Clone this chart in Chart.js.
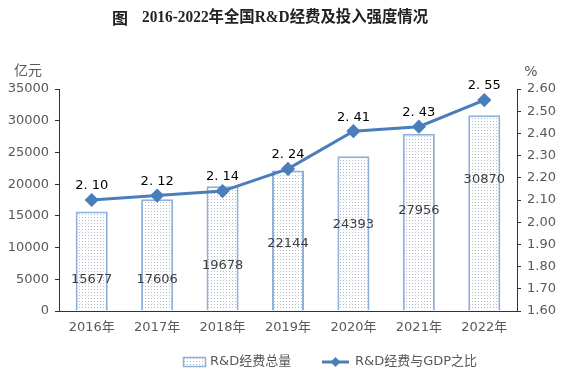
<!DOCTYPE html>
<html><head><meta charset="utf-8">
<script src="https://cdn.jsdelivr.net/npm/chart.js@4/dist/chart.umd.min.js"></script>
<style>html,body{margin:0;padding:0;background:#fff}#wrap{width:566px;height:378px}</style>
</head><body><div id="wrap"><canvas id="c" width="566" height="378"></canvas></div>
<script>
const categories = ['2016年','2017年','2018年','2019年','2020年','2021年','2022年'];
const rdTotal = [15677, 17606, 19678, 22144, 24393, 27956, 30870];
const rdRatio = [2.10, 2.12, 2.14, 2.24, 2.41, 2.43, 2.55];
// where the bar value labels sit (in 亿元 units on the left axis)
const barLabelAt = [4900, 4900, 7100, 10700, 13560, 15770, 20650];
const titleLead = '图';
const titleText = '2016-2022年全国R&D经费及投入强度情况';
const seriesNames = ['R&D经费总量', 'R&D经费与GDP之比'];

const LINE = '#4a7ebb';
const BORDER = '#8fb0d9';
const TXT = '#404040';
const FONT = "'DejaVu Sans', 'Noto Sans CJK SC', sans-serif";

function makePattern(){
  const p = document.createElement('canvas'); p.width = 3; p.height = 3;
  const g = p.getContext('2d');
  g.fillStyle = '#ffffff'; g.fillRect(0,0,3,3);
  g.fillStyle = '#b4bccb'; g.fillRect(1,1,1,1);
  return g.createPattern(p,'repeat');
}
const pattern = makePattern();

const extras = {
  id: 'extras',
  afterDatasetsDraw(chart){
    const ctx = chart.ctx;
    const xs = chart.scales.x, y = chart.scales.y, y1 = chart.scales.y1;
    ctx.save();
    ctx.font = '13px ' + FONT;
    ctx.fillStyle = TXT;
    ctx.textAlign = 'center'; ctx.textBaseline = 'middle';
    rdTotal.forEach((v,i)=>{
      ctx.fillText(String(v), xs.getPixelForValue(i), y.getPixelForValue(barLabelAt[i]));
    });
    ctx.fillStyle = '#000';
    rdRatio.forEach((v,i)=>{
      ctx.fillText(v.toFixed(2).replace('.', '. '), xs.getPixelForValue(i), y1.getPixelForValue(v) - 14);
    });
    ctx.fillStyle = '#595959';
    ctx.font = "14px 'Noto Sans CJK SC', sans-serif";
    ctx.fillText('亿元', 28, 70);
    ctx.font = '14px ' + FONT;
    ctx.fillText('%', 531, 72);
    // title
    ctx.fillStyle = '#222';
    ctx.textAlign = 'left';
    ctx.font = "bold 16px 'Noto Sans CJK SC', serif";
    ctx.fillText(titleLead, 112, 18);
    ctx.font = "bold 16px 'Liberation Serif','Noto Sans CJK SC', serif";
    const w = ctx.measureText(titleText).width;
    ctx.save();
    ctx.translate(142, 18);
    ctx.scale(286 / w, 1);
    ctx.fillText(titleText, 0, 0);
    ctx.restore();
    // legend
    const ly = 362;
    ctx.fillStyle = pattern;
    ctx.fillRect(183, ly - 5, 23, 10);
    ctx.strokeStyle = BORDER; ctx.lineWidth = 1.5;
    ctx.strokeRect(183.5, ly - 4.5, 22, 9);
    ctx.strokeStyle = LINE; ctx.lineWidth = 3;
    ctx.beginPath(); ctx.moveTo(322, ly); ctx.lineTo(349, ly); ctx.stroke();
    ctx.fillStyle = LINE;
    ctx.beginPath(); ctx.moveTo(335.5, ly - 5); ctx.lineTo(340.5, ly); ctx.lineTo(335.5, ly + 5); ctx.lineTo(330.5, ly); ctx.closePath(); ctx.fill();
    ctx.fillStyle = '#595959';
    ctx.font = '13px ' + FONT;
    ctx.fillText(seriesNames[0], 210, ly);
    ctx.fillText(seriesNames[1], 355, ly);
    ctx.restore();
  }
};

new Chart(document.getElementById('c'), {
  data: {
    labels: categories,
    datasets: [
      { type: 'line', label: seriesNames[1], data: rdRatio, yAxisID: 'y1', borderColor: LINE, backgroundColor: LINE,
        borderWidth: 3, pointStyle: 'rectRot', pointRadius: 5, pointHoverRadius: 5, order: 0 },
      { type: 'bar', label: seriesNames[0], data: rdTotal, yAxisID: 'y', backgroundColor: pattern, borderColor: BORDER,
        borderWidth: 2, barPercentage: 0.49, categoryPercentage: 1, order: 1 }
    ]
  },
  options: {
    responsive: false, animation: false, devicePixelRatio: 1,
    layout: { padding: { left: 0, right: 0, top: 89, bottom: 38 } },
    plugins: {
      title: { display: false },
      legend: { display: false },
      tooltip: { enabled: false }
    },
    scales: {
      x: { offset: true, grid: { display: false, drawTicks: false }, border: { display: true, color: '#333', width: 1 },
        ticks: { color: '#595959', font: { family: FONT, size: 13 }, padding: 9, maxRotation: 0 },
        afterFit(s){ s.height = 29; } },
      y: { position: 'left', min: 0, max: 35000, ticks: { stepSize: 5000, color: '#595959', font: { family: FONT, size: 13 }, padding: 6, callback: v => String(v) },
        grid: { drawOnChartArea: false, drawTicks: true, tickLength: 4, color: '#333' }, border: { display: true, color: '#333' },
        afterFit(s){ s.width = 59; } },
      y1: { position: 'right', min: 1.6, max: 2.6, ticks: { stepSize: 0.1, color: '#595959', font: { family: FONT, size: 13 }, padding: 6, callback: v => Number(v).toFixed(2) },
        grid: { drawOnChartArea: false, drawTicks: true, tickLength: 4, color: '#333' }, border: { display: true, color: '#333' },
        afterFit(s){ s.width = 49; } }
    }
  },
  plugins: [extras]
});
</script></body></html>
